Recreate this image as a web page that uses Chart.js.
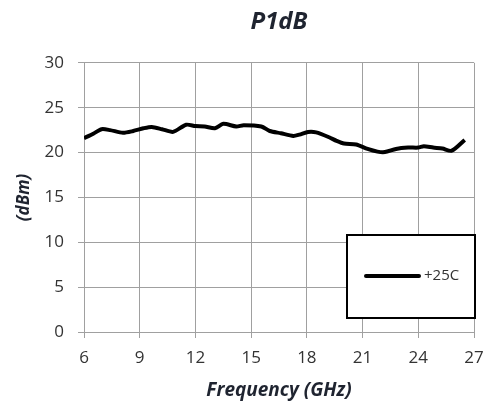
<!DOCTYPE html>
<html>
<head>
<meta charset="utf-8">
<script src="https://cdn.jsdelivr.net/npm/chart.js@4"></script>
<style>
  html, body { margin: 0; padding: 0; background: #fff; }
  #wrap { width: 499px; height: 407px; }
</style>
</head>
<body>
<div id="wrap"><canvas id="p1dbChart"></canvas></div>
<script>
const freqGHz = [6.0, 6.5, 6.95, 7.4, 8.1, 8.65, 9.2, 9.65, 10.2, 10.8, 11.5, 12.0, 12.5, 13.05,
  13.5, 14.2, 14.6, 15.55, 16.0, 16.6, 17.27, 17.6, 18.07, 18.5, 19.2, 19.6, 20.0, 20.65,
  21.27, 21.8, 22.2, 22.8, 23.45, 24.0, 24.3, 24.8, 25.3, 25.8, 26.5];
const p1dB25C = [21.6, 22.1, 22.6, 22.5, 22.2, 22.4, 22.7, 22.85, 22.6, 22.3, 23.1, 22.95, 22.9, 22.7,
  23.2, 22.9, 23.05, 22.9, 22.4, 22.15, 21.85, 22.0, 22.3, 22.25, 21.7, 21.3, 21.0, 20.9,
  20.4, 20.1, 20.05, 20.4, 20.55, 20.55, 20.7, 20.55, 20.45, 20.2, 21.4];
const xTicks = [6, 9, 12, 15, 18, 21, 24, 27];
const yTicks = [0, 5, 10, 15, 20, 25, 30];
const seriesLabel = '+25C';

const gridColor = '#a0a0a0';
const textColor = '#333333';
const titleColor = '#1f2430';

// boxed legend sitting in the lower right of the plot
const boxLegend = {
  id: 'boxLegend',
  afterDraw(chart) {
    const { ctx, chartArea } = chart;
    const ds = chart.data.datasets[0];
    const w = 128, h = 83;
    const x = chartArea.right + 1 - w;
    const y = chartArea.bottom - 14 - h;
    ctx.save();
    ctx.fillStyle = '#fff';
    ctx.fillRect(x, y, w, h);
    ctx.strokeStyle = '#000';
    ctx.lineWidth = 2;
    ctx.strokeRect(x, y, w, h);
    ctx.beginPath();
    ctx.strokeStyle = ds.borderColor;
    ctx.lineWidth = ds.borderWidth;
    ctx.lineCap = 'round';
    ctx.moveTo(x + 19, y + 41);
    ctx.lineTo(x + 72, y + 41);
    ctx.stroke();
    ctx.fillStyle = textColor;
    ctx.font = '15px "Open Sans", sans-serif';
    ctx.textBaseline = 'middle';
    ctx.fillText(ds.label, x + 77, y + 41);
    ctx.restore();
  }
};

new Chart(document.getElementById('p1dbChart'), {
  type: 'line',
  data: {
    datasets: [{
      label: seriesLabel,
      data: freqGHz.map((f, i) => ({ x: f, y: p1dB25C[i] })),
      borderColor: '#000',
      borderWidth: 4,
      pointRadius: 0,
      tension: 0.25,
      fill: false
    }]
  },
  options: {
    responsive: true,
    maintainAspectRatio: false,
    animation: false,
    layout: { padding: { left: 0, right: 25, top: 0, bottom: 0 } },
    plugins: {
      legend: { display: false },
      tooltip: { enabled: false },
      title: {
        display: true,
        text: 'P1dB',
        fullSize: false,
        color: titleColor,
        font: { family: '"Open Sans", sans-serif', size: 24, weight: 'bold', style: 'italic' },
        padding: { top: 8, bottom: 26 }
      }
    },
    scales: {
      x: {
        type: 'linear',
        min: 6,
        max: 27,
        afterBuildTicks: (s) => { s.ticks = xTicks.map(v => ({ value: v })); },
        afterFit: (s) => { s.height = 75; },
        grid: { color: gridColor, lineWidth: 1, tickLength: 6 },
        border: { color: gridColor },
        ticks: {
          color: textColor,
          padding: 10,
          maxRotation: 0,
          font: { family: '"Open Sans", sans-serif', size: 17 }
        },
        title: {
          display: true,
          text: 'Frequency (GHz)',
          color: titleColor,
          font: { family: '"Open Sans", sans-serif', size: 19, weight: 'bold', style: 'italic' },
          padding: { top: 0, bottom: 5 }
        }
      },
      y: {
        min: 0,
        max: 30,
        afterBuildTicks: (s) => { s.ticks = yTicks.map(v => ({ value: v })); },
        afterFit: (s) => { s.width = 84; },
        grid: { color: gridColor, lineWidth: 1, tickLength: 6 },
        border: { color: gridColor },
        ticks: {
          color: textColor,
          padding: 14,
          font: { family: '"Open Sans", sans-serif', size: 17 }
        },
        title: {
          display: true,
          text: '(dBm)',
          color: titleColor,
          font: { family: '"Open Sans", sans-serif', size: 17, weight: 'bold', style: 'italic' },
          padding: { top: 14, bottom: 0 }
        }
      }
    }
  },
  plugins: [boxLegend]
});
</script>
</body>
</html>
